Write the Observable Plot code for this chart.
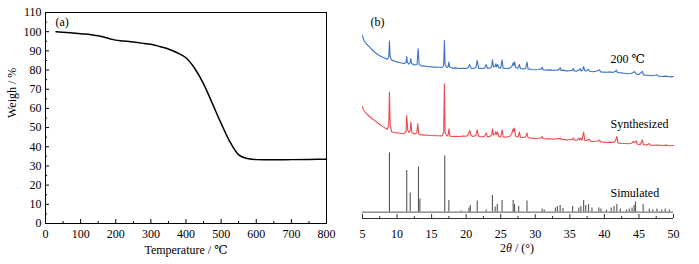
<!DOCTYPE html>
<html>
<head>
<meta charset="utf-8">
<script src="https://cdn.jsdelivr.net/npm/d3@7"></script>
<script src="https://cdn.jsdelivr.net/npm/@observablehq/plot@0.6"></script>
<style>
  html, body { margin: 0; padding: 0; background: #fff; }
  #wrap { position: relative; width: 699px; height: 264px; overflow: hidden; font-family: "Liberation Serif", "DejaVu Serif", serif; }
  #left, #right { position: absolute; top: 0; }
  #left { left: 0; }
  #right { left: 350px; }
  #xtitleB { position: absolute; top: 240px; left: 467px; width: 100px; text-align: center; font-size: 12px; line-height: 16px; color: #000; }
</style>
</head>
<body>
<div id="wrap">
  <div id="left"></div>
  <div id="right"></div>
  <div id="xtitleB">2<i>θ</i> / (°)</div>
</div>
<script>
// ---------- Panel (a): TGA ----------
const tgaTemp   = [30, 60, 100, 130, 150, 170, 190, 200, 220, 250, 280, 300, 325, 350, 375, 400, 425, 450, 475, 500, 525, 550, 575, 600, 650, 700, 750, 800];
const tgaWeight = [100, 99.6, 98.9, 98.4, 97.9, 97.0, 96.0, 95.6, 95.2, 94.6, 93.9, 93.4, 92.3, 91.0, 89.0, 86.4, 80.8, 72.8, 62.6, 52.2, 42.6, 35.8, 33.9, 33.3, 33.2, 33.3, 33.4, 33.5];
const tempTicks   = [0, 100, 200, 300, 400, 500, 600, 700, 800];
const tempMinor   = [50, 150, 250, 350, 450, 550, 650, 750];
const weightTicks = [0, 10, 20, 30, 40, 50, 60, 70, 80, 90, 100, 110];
const weightMinor = [5, 15, 25, 35, 45, 55, 65, 75, 85, 95, 105];

// ---------- Panel (b): PXRD (stacked intensity, a.u.) ----------
const blueX = [5.0,5.1,5.3,5.6,6.0,6.5,7.0,7.5,8.0,8.6,8.8,8.9,9.0,9.2,9.6,10.0,10.5,11.0,11.3,11.4,11.5,11.7,11.9,12.0,12.1,12.5,12.9,13.05,13.2,13.5,14.0,14.5,15.0,15.5,16.0,16.5,16.75,16.85,16.95,17.2,17.4,17.5,17.6,18.0,18.5,19.0,19.5,20.0,20.3,20.5,20.7,21.0,21.4,21.6,21.8,22.3,22.7,22.9,23.1,23.5,23.7,23.8,23.95,24.2,24.3,24.4,24.55,24.7,25.0,25.2,25.35,25.8,26.3,26.6,26.8,26.9,27.0,27.15,27.5,27.7,27.85,28.3,28.6,28.8,28.95,29.5,30.0,30.5,30.9,31.0,31.15,31.6,32.2,32.8,33.2,33.4,33.6,33.75,34.0,34.5,35.0,35.4,35.5,35.65,36.0,36.3,36.5,36.65,36.85,37.0,37.15,37.4,37.7,37.85,38.3,38.8,39.3,39.45,39.9,40.4,40.8,41.2,41.6,41.75,41.9,42.4,42.9,43.4,43.9,44.2,44.4,44.6,45.0,45.5,45.65,46.2,46.8,47.4,47.6,47.8,48.4,48.9,49.3,49.7,50.0];
const blueY = [91.5,90,88.5,87.2,85.8,84,82.5,81.4,80.5,79.6,81,88.7,81,79.2,78.8,78.3,77.9,77.5,78,81,78,77.2,78,79.8,77.5,76.8,77,84.8,77,76.3,76.2,76,75.8,75.7,75.6,75.5,76.5,89,77,75.5,76,78.2,75.8,75.2,75.3,75,75.1,75,75.5,77,75.2,75,75.4,79,75.2,75,75.3,77,75,75.3,76,79.3,75.8,76,77.3,75.8,77,75.5,75.2,79.3,75.2,75,75.2,76,77.8,76.5,78.3,75.5,75.2,77,75,74.8,75,78.2,74.8,74.5,74.4,74.5,74.8,75.6,74.4,74.2,74.3,74,74.4,74.2,75.4,74,74.2,73.8,73.9,74.2,75,73.8,73.7,74.2,74.9,73.8,74.2,76,73.9,73.8,74.6,73.6,73.4,73.6,74.4,73.3,73.2,73.1,73.3,73,73.6,74.2,73,72.8,72.6,72.4,72.5,73.2,73.4,72.2,72,73.6,71.8,71.6,71.4,71.6,71.9,71.2,71,71.2,70.9,70.8,71];

const redX = [5.0,5.1,5.3,5.6,6.0,6.5,7.0,7.5,8.0,8.6,8.8,8.9,9.0,9.2,9.6,10.0,10.5,11.0,11.3,11.4,11.55,11.75,11.9,12.0,12.15,12.5,12.85,13.0,13.15,13.5,14.0,14.5,15.0,15.5,16.0,16.5,16.75,16.85,16.95,17.2,17.4,17.5,17.65,18.0,18.5,19.0,19.5,20.0,20.3,20.5,20.7,21.0,21.4,21.6,21.8,22.3,22.7,22.9,23.1,23.5,23.7,23.8,23.95,24.2,24.3,24.4,24.55,24.7,25.0,25.2,25.35,25.8,26.3,26.6,26.8,26.9,27.0,27.15,27.5,27.7,27.85,28.3,28.6,28.8,28.95,29.5,30.0,30.5,30.9,31.0,31.15,31.6,32.2,32.8,33.2,33.4,33.6,33.75,34.0,34.5,35.0,35.4,35.5,35.65,36.0,36.3,36.45,36.6,36.75,37.0,37.15,37.4,37.8,37.95,38.4,38.9,39.3,39.45,39.9,40.4,40.9,41.3,41.6,41.8,41.95,42.4,42.9,43.4,43.9,44.2,44.4,44.6,44.75,45.2,45.5,45.65,46.2,46.5,46.65,47.2,47.8,48.4,48.9,49.4,50.0];
const redY = [56,54.5,53.5,52.3,51,49.6,48.3,47,45.8,44.5,47,63.2,47,43.4,43,42.8,42.6,42.4,43.5,51.5,44,43,44,48.2,43,42.3,42.8,47.3,42.2,41.8,41.7,41.6,41.5,41.4,41.4,41.3,43,67.3,43,41.2,42,44.8,41.2,41,41.1,41,41.2,41.1,42,44,41.5,41,41.5,44.3,41,40.9,41.2,42.7,40.8,41.2,42,44.8,41.8,42.2,43.5,42,43.2,41,40.8,44.3,40.8,40.7,41,42.5,44.8,43.5,45.2,41.2,40.8,43.2,40.6,40.5,40.8,42.8,40.4,40.2,40,40.1,40.4,41,40,39.8,39.9,39.6,40,39.7,40.3,39.5,39.6,39.3,39.4,39.7,40.2,39.2,39.1,40.2,39.2,40.2,39.2,43.2,39.1,39,39.6,38.8,38.5,38.6,39.2,38.3,38.2,38,38.2,38,38.8,41,37.8,37.6,37.5,37.4,37.6,38.5,38,38.8,37.2,37,39.3,36.9,36.8,37.5,36.7,36.6,36.7,36.5,36.7,36.4,36.5];

const simBaseline = 3.2;
const simX = [8.9,11.4,11.9,13.1,13.3,16.9,17.5,19.3,20.4,20.6,21.6,22.9,23.8,24.2,24.5,25.2,26.8,27.0,27.6,28.8,31.0,31.3,32.9,33.2,33.6,34.0,35.4,36.3,36.6,37.0,37.3,37.7,38.2,39.2,39.5,40.3,41.0,41.4,41.8,42.3,43.2,43.6,44.0,44.3,44.5,45.6,46.5,47.0,47.6,48.3,48.8,49.4];
const simY = [32.8,24,12.8,25.7,9.8,31.2,9,3.8,5.3,6.5,8.7,4.3,11.5,5.7,7,9,9,7,6,8.7,4.8,4.2,5.3,6,6.5,5,6,5.3,6,9,6.5,7,5.3,5.3,4.8,4.2,5.3,6,7,4.8,4.2,4.8,5.3,6.5,8.2,7,4.8,4.2,4.8,4.2,4.8,4.2];
const twoThetaTicks = [5, 10, 15, 20, 25, 30, 35, 40, 45, 50];
const twoThetaMinor = [7.5, 12.5, 17.5, 22.5, 27.5, 32.5, 37.5, 42.5, 47.5];

const seriesNames = ["200 ℃", "Synthesized", "Simulated"];
const panelTags = ["(a)", "(b)"];
const xTitleA = "Temperature / ℃";
const yTitleA = "Weigh / %";

// ---------- build ----------
const FONT = "Liberation Serif, DejaVu Serif, serif";
const tga = tgaTemp.map((t, i) => ({t, w: tgaWeight[i]}));

const LW = 350, LH = 264, LM = {top: 12, right: 24, bottom: 41, left: 45};
const lInnerH = LH - LM.top - LM.bottom, lInnerW = LW - LM.left - LM.right;

const left = Plot.plot({
  width: LW, height: LH,
  marginTop: LM.top, marginRight: LM.right, marginBottom: LM.bottom, marginLeft: LM.left,
  style: {fontFamily: FONT, fontSize: "12px", color: "#000", background: "transparent"},
  x: {domain: [0, 800], ticks: tempTicks, tickSize: 0, tickPadding: 6, label: null},
  y: {domain: [0, 110], ticks: weightTicks, tickSize: 0, tickPadding: 4, label: null},
  marks: [
    Plot.frame({stroke: "#000", strokeWidth: 1}),
    Plot.tickX(tempTicks, {x: d => d, insetTop: lInnerH - 4, stroke: "#000"}),
    Plot.tickX(tempMinor, {x: d => d, insetTop: lInnerH - 2, stroke: "#000"}),
    Plot.tickY(weightTicks, {y: d => d, insetRight: lInnerW - 4, stroke: "#000"}),
    Plot.tickY(weightMinor, {y: d => d, insetRight: lInnerW - 2, stroke: "#000"}),
    Plot.line(tga, {x: "t", y: "w", stroke: "#000", strokeWidth: 1.5, curve: "monotone-x"}),
    Plot.text([panelTags[0]], {text: d => d, frameAnchor: "top-left", dx: 10, dy: 10, textAnchor: "start", lineAnchor: "middle", fontSize: 12}),
    Plot.text([xTitleA], {text: d => d, frameAnchor: "bottom", dy: 27, lineAnchor: "middle", fontSize: 12}),
    Plot.text([yTitleA], {text: d => d, frameAnchor: "left", dx: -33, rotate: -90, lineAnchor: "middle", fontSize: 12})
  ]
});
document.getElementById("left").appendChild(left);

const blue = blueX.map((x, i) => ({x, y: blueY[i]}));
const red = redX.map((x, i) => ({x, y: redY[i]}));
const sim = simX.map((x, i) => ({x, y: simY[i]}));

const RW = 349, RH = 264, RM = {top: 18, right: 26, bottom: 46, left: 12};
const rInnerH = RH - RM.top - RM.bottom;

const right = Plot.plot({
  width: RW, height: RH,
  marginTop: RM.top, marginRight: RM.right, marginBottom: RM.bottom, marginLeft: RM.left,
  style: {fontFamily: FONT, fontSize: "12px", color: "#000", background: "transparent", overflow: "visible"},
  x: {domain: [5, 50], ticks: twoThetaTicks, tickSize: 0, tickPadding: 11, label: null},
  y: {domain: [0, 100], axis: null},
  marks: [
    Plot.ruleY([0], {stroke: "#333", strokeWidth: 1}),
    Plot.tickX(twoThetaTicks, {x: d => d, insetTop: rInnerH - 4, stroke: "#333"}),
    Plot.tickX(twoThetaMinor, {x: d => d, insetTop: rInnerH - 2, stroke: "#333"}),
    Plot.ruleY([simBaseline], {stroke: "#555", strokeWidth: 1}),
    Plot.ruleX(sim, {x: "x", y1: simBaseline, y2: "y", stroke: "#555", strokeWidth: 1.1}),
    Plot.line(red, {x: "x", y: "y", stroke: "#ee4a4f", strokeWidth: 1.1}),
    Plot.line(blue, {x: "x", y: "y", stroke: "#3a73c6", strokeWidth: 1.1}),
    Plot.text([panelTags[1]], {text: d => d, frameAnchor: "top-left", dx: 8, dy: 4, textAnchor: "start", lineAnchor: "middle", fontSize: 12}),
    Plot.text([seriesNames[0]], {text: d => d, frameAnchor: "top-left", dx: 248, dy: 41, textAnchor: "start", lineAnchor: "middle", fontSize: 12}),
    Plot.text([seriesNames[1]], {text: d => d, frameAnchor: "top-left", dx: 248, dy: 106, textAnchor: "start", lineAnchor: "middle", fontSize: 12}),
    Plot.text([seriesNames[2]], {text: d => d, frameAnchor: "top-left", dx: 248, dy: 175, textAnchor: "start", lineAnchor: "middle", fontSize: 12})
  ]
});
document.getElementById("right").appendChild(right);
</script>
</body>
</html>
